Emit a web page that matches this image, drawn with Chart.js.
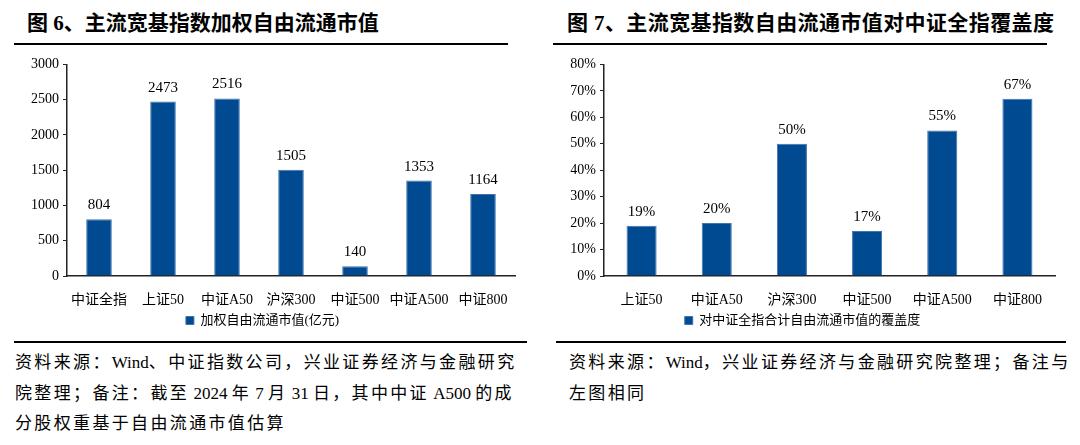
<!DOCTYPE html>
<html>
<head>
<meta charset="utf-8">
<script src="https://cdn.jsdelivr.net/npm/chart.js@4.4.0/dist/chart.umd.min.js"></script>
<style>
  body { margin: 0; width: 1080px; height: 445px; background: #fff; position: relative; overflow: hidden;
         font-family: "Liberation Serif", "Noto Sans CJK SC", serif; color: #000; }
  .title { position: absolute; top: 6px; font-size: 21px; font-weight: bold; white-space: nowrap; }
  .rule { position: absolute; height: 2px; background: #000; }
  .note { position: absolute; top: 348px; font-size: 17px; line-height: 30.5px; letter-spacing: 2.35px; white-space: nowrap; }
  .note .l { letter-spacing: 0; }
  .box { position: absolute; }
</style>
</head>
<body>
<div class="title" style="left:27px">图 6、主流宽基指数加权自由流通市值</div>
<div class="title" style="left:567px; letter-spacing:0.4px">图 7、主流宽基指数自由流通市值对中证全指覆盖度</div>
<div class="rule" style="left:14px; width:494px; top:43px"></div>
<div class="rule" style="left:553px; width:494px; top:43px"></div>

<div class="box" style="left:10px; top:52px; width:525px; height:285px"><canvas id="chartLeft"></canvas></div>
<div class="box" style="left:550px; top:52px; width:525px; height:285px"><canvas id="chartRight"></canvas></div>

<div class="rule" style="left:14px; width:513px; top:341px; height:1.5px"></div>
<div class="rule" style="left:556px; width:510px; top:341px; height:1.5px"></div>
<div class="note" style="left:15px">资料来源：<span class="l">Wind</span>、中证指数公司，兴业证券经济与金融研究<br>院整理；备注：截至<span class="l"> 2024 </span>年<span class="l"> 7 </span>月<span class="l"> 31 </span>日，其中中证<span class="l"> A500 </span>的成<br>分股权重基于自由流通市值估算</div>
<div class="note" style="left:569px">资料来源：<span class="l">Wind</span>，兴业证券经济与金融研究院整理；备注与<br>左图相同</div>

<script>
const leftCategories = ["中证全指", "上证50", "中证A50", "沪深300", "中证500", "中证A500", "中证800"];
const leftValues = [804, 2473, 2516, 1505, 140, 1353, 1164];
const leftTicks = [0, 500, 1000, 1500, 2000, 2500, 3000];
const leftLabel = "加权自由流通市值(亿元)";

const rightCategories = ["上证50", "中证A50", "沪深300", "中证500", "中证A500", "中证800"];
const rightValues = [19, 20, 50, 17, 55, 67];
const rightTicks = [0, 10, 20, 30, 40, 50, 60, 70, 80];
const rightLabel = "对中证全指合计自由流通市值的覆盖度";

const FONT = '"Liberation Serif", "Noto Sans CJK SC", serif';
const BAR = "#004a92";

// value text above each bar
const valueLabels = {
    id: "valueLabels",
    afterDatasetsDraw(chart, args, opts) {
        const ctx = chart.ctx;
        const meta = chart.getDatasetMeta(0);
        const data = chart.data.datasets[0].data;
        ctx.save();
        ctx.font = "15px " + FONT;
        ctx.fillStyle = "#000";
        ctx.textAlign = "center";
        ctx.textBaseline = "middle";
        meta.data.forEach((bar, i) => {
            ctx.fillText(data[i] + (opts.suffix || ""), bar.x, bar.y - 14);
        });
        ctx.restore();
    }
};

function makeChart(id, labels, values, label, ticks, suffix, axisWidth) {
    return new Chart(document.getElementById(id), {
        type: "bar",
        data: {
            labels: labels,
            datasets: [{
                label: label,
                data: values,
                backgroundColor: BAR,
                borderColor: "#3f74ad",
                borderWidth: 1,
                categoryPercentage: 1,
                barPercentage: 0.4
            }]
        },
        options: {
            responsive: true,
            maintainAspectRatio: false,
            animation: false,
            layout: { padding: { top: 12, right: 20, left: 0, bottom: 0 } },
            plugins: {
                legend: {
                    position: "bottom",
                    labels: {
                        font: { family: FONT, size: 13 },
                        color: "#000",
                        boxWidth: 8,
                        boxHeight: 8,
                        padding: 6
                    }
                },
                tooltip: { enabled: false },
                valueLabels: { suffix: suffix }
            },
            scales: {
                x: {
                    grid: { display: false },
                    border: { display: true, color: "#222", width: 1.5 },
                    ticks: { font: { family: FONT, size: 14 }, color: "#000", padding: 8, maxRotation: 0 },
                    afterFit: s => { s.height = 32; }
                },
                y: {
                    min: ticks[0],
                    max: ticks[ticks.length - 1],
                    afterBuildTicks: s => { s.ticks = ticks.map(v => ({ value: v })); },
                    grid: { drawOnChartArea: false, drawTicks: true, tickLength: 4, color: "#222" },
                    border: { display: true, color: "#222", width: 1.5 },
                    ticks: {
                        font: { family: FONT, size: 14 },
                        color: "#000",
                        padding: 4,
                        callback: v => v + suffix
                    },
                    afterFit: s => { s.width = axisWidth; }
                }
            }
        },
        plugins: [valueLabels]
    });
}

makeChart("chartLeft", leftCategories, leftValues, leftLabel, leftTicks, "", 57);
makeChart("chartRight", rightCategories, rightValues, rightLabel, rightTicks, "%", 54);
</script>
</body>
</html>
